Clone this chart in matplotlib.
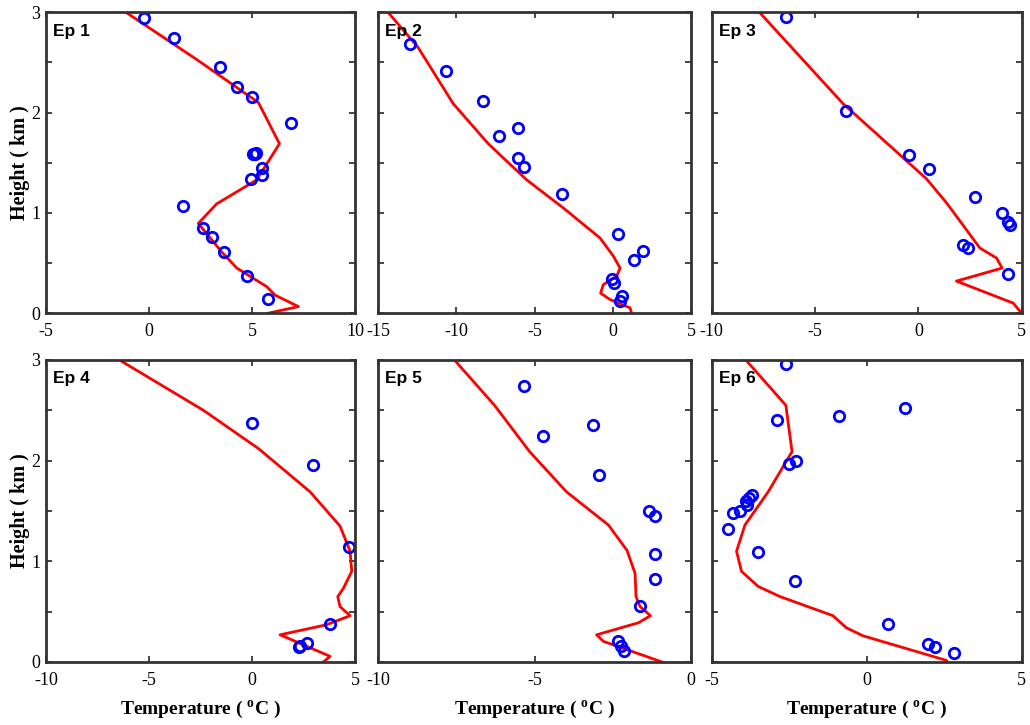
import matplotlib
matplotlib.use("Agg")
import matplotlib.pyplot as plt
from matplotlib.ticker import MultipleLocator

plt.rcParams['font.family'] = 'Liberation Serif'
plt.rcParams['mathtext.fontset'] = 'custom'
plt.rcParams['mathtext.rm'] = 'Liberation Serif'
plt.rcParams['mathtext.bf'] = 'Liberation Serif:bold'
plt.rcParams['axes.unicode_minus'] = False

# model profiles (red lines): temperature (C) and height (km)
ep1_mod_t = [-1.12, 2.31, 5.31, 6.33, 5.23, 3.28, 2.39, 3.53, 4.26, 5.71, 6.12, 7.25, 5.79]
ep1_mod_h = [3.0, 2.53, 2.10, 1.69, 1.33, 1.09, 0.895, 0.61, 0.45, 0.265, 0.18, 0.066, 0.0]
ep2_mod_t = [-14.36, -12.44, -10.2, -7.96, -5.51, -3.17, -0.82, 0.03, 0.46, 0.25, -0.61, -0.78, -0.18, 1.1, 1.2]
ep2_mod_h = [3.0, 2.65, 2.09, 1.69, 1.33, 1.05, 0.75, 0.57, 0.45, 0.37, 0.285, 0.20, 0.136, 0.053, 0.0]
ep3_mod_t = [-7.69, -3.65, 0.39, 1.36, 2.33, 2.97, 3.78, 4.05, 1.84, 4.59, 4.91, 4.94]
ep3_mod_h = [3.0, 2.09, 1.34, 1.10, 0.83, 0.65, 0.55, 0.45, 0.32, 0.10, 0.02, 0.0]
ep4_mod_t = [-6.44, -2.36, 0.31, 2.82, 4.27, 4.76, 4.84, 4.43, 4.16, 4.27, 4.76, 3.62, 1.36, 3.79, 3.46]
ep4_mod_h = [3.0, 2.50, 2.12, 1.69, 1.35, 1.10, 0.90, 0.73, 0.65, 0.55, 0.46, 0.37, 0.27, 0.056, 0.0]
ep5_mod_t = [-7.56, -6.28, -5.16, -3.98, -2.64, -2.05, -1.79, -1.76, -1.63, -1.30, -1.68, -3.02, -2.80, -0.93]
ep5_mod_h = [3.0, 2.55, 2.09, 1.69, 1.36, 1.11, 0.88, 0.65, 0.55, 0.46, 0.39, 0.27, 0.205, 0.0]
ep6_mod_t = [-3.90, -2.61, -2.41, -3.18, -3.93, -4.20, -4.04, -3.50, -2.80, -1.09, -0.66, -0.12, 2.56, 2.61]
ep6_mod_h = [3.0, 2.55, 2.09, 1.69, 1.36, 1.10, 0.90, 0.75, 0.65, 0.46, 0.34, 0.26, 0.017, 0.0]

# observations (blue circles)
ep1_obs_t = [-0.23, 1.23, 3.46, 4.27, 4.98, 6.89, 5.05, 5.12, 5.18, 5.47, 5.50, 4.95, 1.67, 2.61, 3.06, 3.64, 4.76, 5.76]
ep1_obs_h = [2.94, 2.74, 2.45, 2.26, 2.16, 1.90, 1.585, 1.59, 1.60, 1.45, 1.375, 1.34, 1.07, 0.85, 0.76, 0.61, 0.37, 0.14]
ep2_obs_t = [-12.97, -10.67, -8.28, -6.07, -7.28, -6.09, -5.70, -3.23, 0.31, 1.95, 1.35, -0.05, 0.10, 0.59, 0.46]
ep2_obs_h = [2.68, 2.41, 2.12, 1.85, 1.77, 1.55, 1.46, 1.19, 0.79, 0.62, 0.53, 0.345, 0.30, 0.17, 0.12]
ep3_obs_t = [-6.40, -3.49, -0.47, 0.50, 2.73, 4.02, 4.35, 4.43, 2.16, 2.41, 4.35]
ep3_obs_h = [2.95, 2.02, 1.58, 1.44, 1.16, 1.00, 0.905, 0.88, 0.68, 0.65, 0.39]
ep4_obs_t = [-0.02, 2.98, 4.71, 3.79, 2.65, 2.33, 2.28]
ep4_obs_h = [2.37, 1.96, 1.14, 0.38, 0.19, 0.155, 0.145]
ep5_obs_t = [-5.34, -3.12, -4.73, -2.93, -1.35, -1.14, -1.14, -1.14, -1.63, -2.34, -2.25, -2.14]
ep5_obs_h = [2.74, 2.35, 2.24, 1.86, 1.50, 1.45, 1.07, 0.82, 0.56, 0.205, 0.16, 0.11]
ep6_obs_t = [-2.59, 1.22, -0.89, -2.89, -2.27, -2.50, -3.69, -3.80, -3.91, -3.87, -4.09, -4.30, -4.49, -3.50, -2.30, 0.70, 1.97, 2.20, 2.80]
ep6_obs_h = [2.96, 2.52, 2.44, 2.40, 2.00, 1.97, 1.66, 1.63, 1.60, 1.56, 1.50, 1.48, 1.32, 1.09, 0.80, 0.38, 0.18, 0.15, 0.09]

names = ['Ep 1', 'Ep 2', 'Ep 3', 'Ep 4', 'Ep 5', 'Ep 6']
mod_t = [ep1_mod_t, ep2_mod_t, ep3_mod_t, ep4_mod_t, ep5_mod_t, ep6_mod_t]
mod_h = [ep1_mod_h, ep2_mod_h, ep3_mod_h, ep4_mod_h, ep5_mod_h, ep6_mod_h]
obs_t = [ep1_obs_t, ep2_obs_t, ep3_obs_t, ep4_obs_t, ep5_obs_t, ep6_obs_t]
obs_h = [ep1_obs_h, ep2_obs_h, ep3_obs_h, ep4_obs_h, ep5_obs_h, ep6_obs_h]
xlims = [(-5, 10), (-15, 5), (-10, 5), (-10, 5), (-10, 0), (-5, 5)]

fig = plt.figure(figsize=(10.3, 7.25), dpi=100)
lefts = [0.0447, 0.367, 0.691]
widths = [0.300, 0.304, 0.301]
bottoms = [0.568, 0.0869]
heights = [0.415, 0.4166]

for i in range(6):
    r, c = i // 3, i % 3
    ax = fig.add_axes([lefts[c], bottoms[r], widths[c], heights[r]])
    ax.plot(mod_t[i], mod_h[i], color='red', lw=2)
    ax.plot(obs_t[i], obs_h[i], 'o', mfc='none', mec='blue', ms=7.5, mew=2, ls='none')
    lo, hi = xlims[i]
    ax.set_xlim(lo, hi)
    ax.set_xticks(range(lo, hi + 1, 5))
    ax.set_ylim(0, 3)
    ax.set_yticks([0, 1, 2, 3])
    ax.yaxis.set_minor_locator(MultipleLocator(0.5))
    ax.tick_params(which='both', direction='in', top=True, right=True, labelsize=13,
                   length=4, width=1.2, color='#262626')
    ax.tick_params(axis='x', pad=7)
    ax.tick_params(axis='y', pad=4)
    for s in ax.spines.values():
        s.set_linewidth(2)
        s.set_color('#333333')
    ax.text(0.022, 0.962, names[i], transform=ax.transAxes, ha='left', va='top',
            fontsize=12.5, fontweight='bold', family='Liberation Sans')
    if c == 0:
        ax.set_ylabel('Height ( km )', fontsize=14.5, fontweight='bold', labelpad=1)
    else:
        ax.set_yticklabels([])
    if r == 1:
        ax.set_xlabel(r'Temperature ( $^{\mathbf{o}}$C )', fontsize=14, fontweight='bold', labelpad=7)

plt.savefig('out.png', dpi=100)
